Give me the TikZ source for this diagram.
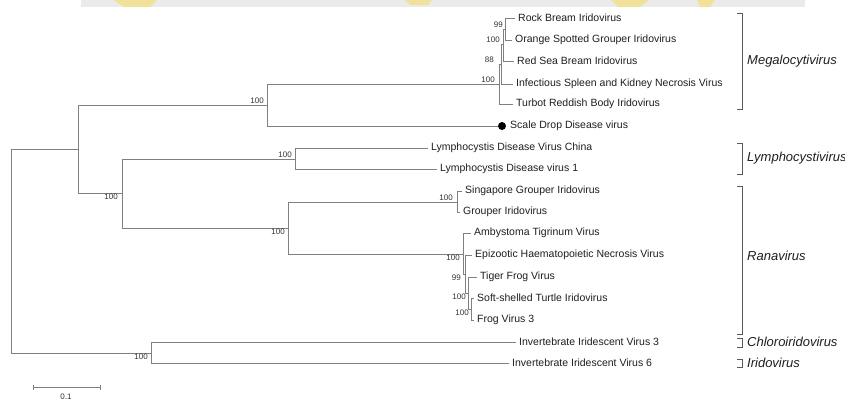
\documentclass[tikz,border=0pt]{standalone}
\usepackage{fontspec}
\setmainfont{Liberation Sans}
\begin{document}
\begin{tikzpicture}[x=1pt,y=-1pt,
  br/.style={draw=black!50, line width=0.9pt},
  leaf/.style={anchor=west, inner xsep=3pt, inner ysep=0pt, font=\fontsize{10.5}{12}\selectfont, text=black!88},
  bsa/.style={anchor=south east, inner sep=1pt, font=\fontsize{8}{9}\selectfont, text=black!80},
  bsb/.style={anchor=north east, inner sep=1pt, font=\fontsize{8}{9}\selectfont, text=black!80},
  genus/.style={anchor=west, inner sep=0pt, font=\fontsize{13}{15}\selectfont\itshape, text=black!88},
  bracket/.style={draw=black!65, line width=1pt}]
\useasboundingbox (0,0) rectangle (845,402);
\fill[white] (0,0) rectangle (845,402);
% faint banner at the top
\fill[black!8] (81,0) rectangle (805,7);
\fill[yellow!70!orange, opacity=0.35] (113,0) -- (157,0) -- (150,7) -- (124,7) -- cycle;
\fill[yellow!70!orange, opacity=0.35] (405,0) -- (432,0) -- (428,5) -- (410,5) -- cycle;
\fill[yellow!70!orange, opacity=0.35] (611,0) -- (649,0) -- (640,7) -- (618,7) -- cycle;
\fill[yellow!70!orange, opacity=0.35] (697,0) -- (715,0) -- (710,7) -- (700,7) -- cycle;

% internal nodes
\coordinate (root) at (11,251);
\coordinate (N1) at (78,149);
\coordinate (N2) at (267,105);
\coordinate (N3) at (122,193);
\coordinate (M0) at (499,84);
\coordinate (M88) at (501,64);
\coordinate (M100) at (503,44);
\coordinate (M99) at (505,29);
\coordinate (L0) at (295,159);
\coordinate (RA) at (288,228);
\coordinate (SG) at (457,202);
\coordinate (R) at (463,254);
\coordinate (X) at (465,274);
\coordinate (Y) at (468,293);
\coordinate (Z) at (471,309);
\coordinate (IV) at (151,353);

% leaf ends
\coordinate (eRock) at (515,18);
\coordinate (eOrange) at (512,40);
\coordinate (eRed) at (514,61);
\coordinate (eISKNV) at (513,84);
\coordinate (eTurbot) at (513,104);
\coordinate (eScale) at (498,126);
\coordinate (eLC) at (428,148);
\coordinate (eL1) at (437,169);
\coordinate (eSing) at (462,191);
\coordinate (eGroup) at (460,212);
\coordinate (eAmby) at (471,233);
\coordinate (eEpiz) at (472,255);
\coordinate (eTiger) at (477,277);
\coordinate (eSoft) at (474,298);
\coordinate (eFrog) at (474,320);
\coordinate (eIIV3) at (516,342);
\coordinate (eIIV6) at (509,363);

% branches
\draw[br] (root) |- (N1);
\draw[br] (root) |- (IV);
\draw[br] (N1) |- (N2);
\draw[br] (N1) |- (N3);
\draw[br] (N2) |- (M0);
\draw[br] (N2) |- (eScale);
\draw[br] (M0) |- (M88);
\draw[br] (M0) |- (eTurbot);
\draw[br] (M88) |- (M100);
\draw[br] (M88) |- (eISKNV);
\draw[br] (M100) |- (M99);
\draw[br] (M100) |- (eRed);
\draw[br] (M99) |- (eRock);
\draw[br] (M99) |- (eOrange);
\draw[br] (N3) |- (L0);
\draw[br] (N3) |- (RA);
\draw[br] (L0) |- (eLC);
\draw[br] (L0) |- (eL1);
\draw[br] (RA) |- (SG);
\draw[br] (RA) |- (R);
\draw[br] (SG) |- (eSing);
\draw[br] (SG) |- (eGroup);
\draw[br] (R) |- (eAmby);
\draw[br] (R) |- (X);
\draw[br] (X) |- (eEpiz);
\draw[br] (X) |- (Y);
\draw[br] (Y) |- (eTiger);
\draw[br] (Y) |- (Z);
\draw[br] (Z) |- (eSoft);
\draw[br] (Z) |- (eFrog);
\draw[br] (IV) |- (eIIV3);
\draw[br] (IV) |- (eIIV6);

% scale drop marker
\fill[black] (502,126) circle (4);

% leaf labels
\node[leaf] (tRock) at (eRock) {Rock Bream Iridovirus};
\node[leaf] (tOrange) at (eOrange) {Orange Spotted Grouper Iridovirus};
\node[leaf] (tRed) at (eRed) {Red Sea Bream Iridovirus};
\node[leaf] (tISKNV) at (eISKNV) {Infectious Spleen and Kidney Necrosis Virus};
\node[leaf] (tTurbot) at (eTurbot) {Turbot Reddish Body Iridovirus};
\node[leaf] (tScale) at (507,126) {Scale Drop Disease virus};
\node[leaf] (tLC) at (eLC) {Lymphocystis Disease Virus China};
\node[leaf] (tL1) at (eL1) {Lymphocystis Disease virus 1};
\node[leaf] (tSing) at (eSing) {Singapore Grouper Iridovirus};
\node[leaf] (tGroup) at (eGroup) {Grouper Iridovirus};
\node[leaf] (tAmby) at (eAmby) {Ambystoma Tigrinum Virus};
\node[leaf] (tEpiz) at (eEpiz) {Epizootic Haematopoietic Necrosis Virus};
\node[leaf] (tTiger) at (eTiger) {Tiger Frog Virus};
\node[leaf] (tSoft) at (eSoft) {Soft-shelled Turtle Iridovirus};
\node[leaf] (tFrog) at (eFrog) {Frog Virus 3};
\node[leaf] (tIIV3) at (eIIV3) {Invertebrate Iridescent Virus 3};
\node[leaf] (tIIV6) at (eIIV6) {Invertebrate Iridescent Virus 6};

% bootstrap values
\node[bsa, xshift=-2pt] (bN2) at (N2) {100};
\node[bsb, xshift=-3pt] (bN3) at (N3) {100};
\node[bsa, xshift=-2pt] (bL0) at (L0) {100};
\node[bsb, xshift=-2pt] (bRA) at (RA) {100};
\node[bsa, xshift=-3pt] (bSG) at (SG) {100};
\node[bsb, xshift=-2pt] (bR) at (R) {100};
\node[bsb, xshift=-3pt] (bX) at (X) {99};
\node[bsb, xshift=-1pt] (bY) at (Y) {100};
\node[bsb, xshift=-1pt] (bZ) at (Z) {100};
\node[bsb, xshift=-2pt] (bIV) at (IV) {100};
\node[bsa, xshift=-3pt] (bM0) at (M0) {100};
\node[bsa, xshift=-6pt] (bM88) at (M88) {88};
\node[bsa, xshift=-2pt] (bM100) at (M100) {100};
\node[bsa, xshift=-1pt] (bM99) at (M99) {99};

% genus brackets
\draw[bracket] (737,13) -- (742,13) -- (742,109) -- (737,109);
\node[genus] (gMega) at (747,61) {Megalocytivirus};
\draw[bracket] (737,143) -- (742,143) -- (742,174) -- (737,174);
\node[genus] (gLym) at (747,158) {Lymphocystivirus};
\draw[bracket] (737,186) -- (742,186) -- (742,334) -- (737,334);
\node[genus] (gRana) at (747,256) {Ranavirus};
\draw[bracket] (737,338) -- (742,338) -- (742,347) -- (737,347);
\node[genus] (gChloro) at (747,342) {Chloroiridovirus};
\draw[bracket] (737,359) -- (742,359) -- (742,367) -- (737,367);
\node[genus] (gIrido) at (747,363) {Iridovirus};

% scale bar
\coordinate (sb1) at (33,387);
\coordinate (sb2) at (100,387);
\draw[br, line width=0.8pt] (sb1) -- (sb2);
\draw[br, line width=0.8pt] ([yshift=-2.5pt]sb1) -- ([yshift=2.5pt]sb1);
\draw[br, line width=0.8pt] ([yshift=-2.5pt]sb2) -- ([yshift=2.5pt]sb2);
\node[font=\fontsize{8}{9}\selectfont, text=black!80, inner sep=0pt] (sbl) at (66,397) {0.1};
\end{tikzpicture}
\end{document}
